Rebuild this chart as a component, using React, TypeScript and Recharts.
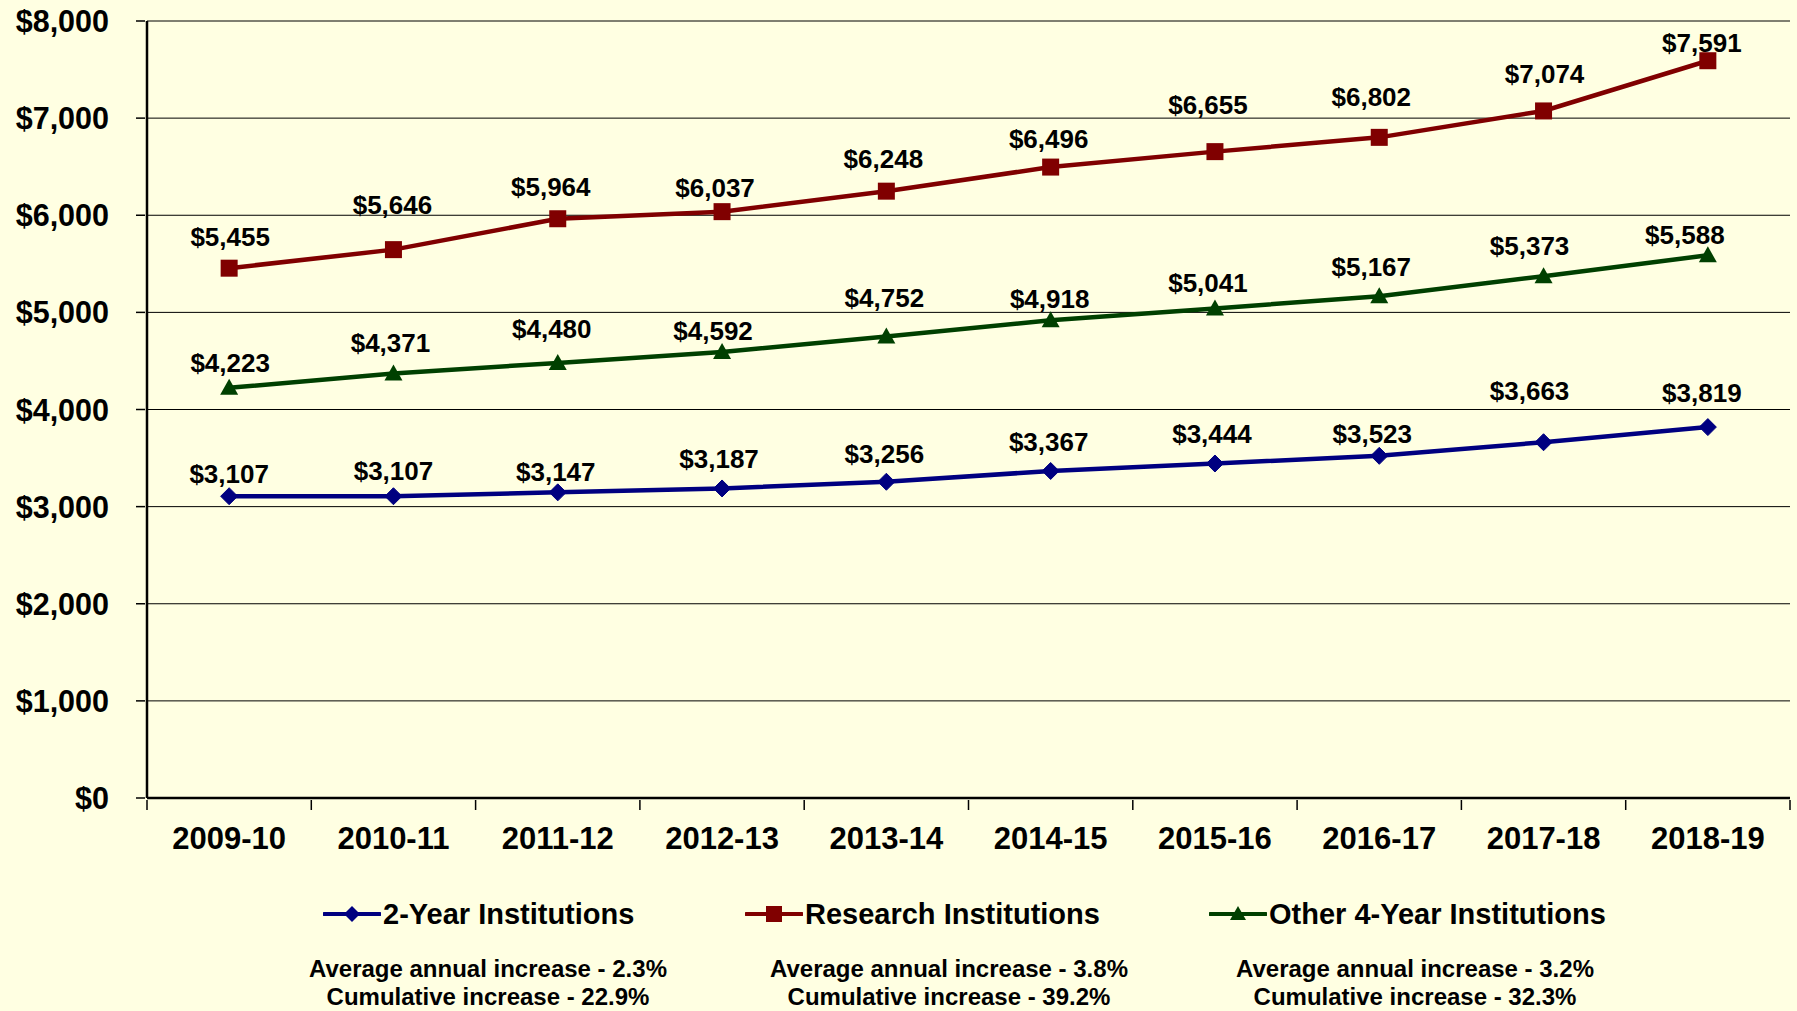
import React from "react";
import { LineChart, Line, XAxis, YAxis, CartesianGrid, LabelList, Legend } from "recharts";

const categories = ["2009-10", "2010-11", "2011-12", "2012-13", "2013-14", "2014-15", "2015-16", "2016-17", "2017-18", "2018-19"];
const twoYear = [3107, 3107, 3147, 3187, 3256, 3367, 3444, 3523, 3663, 3819];
const research = [5455, 5646, 5964, 6037, 6248, 6496, 6655, 6802, 7074, 7591];
const otherFour = [4223, 4371, 4480, 4592, 4752, 4918, 5041, 5167, 5373, 5588];
const yTicks = [0, 1000, 2000, 3000, 4000, 5000, 6000, 7000, 8000];
const seriesNames = ["2-Year Institutions", "Research Institutions", "Other 4-Year Institutions"];
const notesAvg = ["Average annual increase - 2.3%", "Average annual increase - 3.8%", "Average annual increase - 3.2%"];
const notesCum = ["Cumulative increase - 22.9%", "Cumulative increase - 39.2%", "Cumulative increase - 32.3%"];

// label placement nudges (style)
const redLift = [31, 45, 32, 24, 32, 28, 47, 41, 37, 18];
const redShift = [1, -1, -7, -7, -3, -2, -7, -8, 1, -6];
const greenLift = [25, 31, 34, 21, 39, 22, 26, 29, 30, 21];
const greenShift = [1, -3, -6, -9, -2, -1, -7, -8, -14, -23];
const blueLift = [23, 26, 21, 30, 28, 29, 30, 22, 52, 34];
const blueShift = [0, 0, -2, -3, -2, -2, -3, -7, -14, -6];

const data = categories.map((c, i) => ({ cat: c, two: twoYear[i], research: research[i], other: otherFour[i] }));

const FONT = "'Liberation Sans', Arial, sans-serif";
const BLUE = "#000080";
const RED = "#800000";
const GREEN = "#004000";
const BG = "#FFFFE2";

const W = 1797;
const H = 1011;
const LEFT = 147;
const RIGHT = 7;
const HALF_BAND = (W - LEFT - RIGHT) / categories.length / 2;

const fmt = (v: number) => "$" + v.toLocaleString("en-US");

const XTick = (props: any) => {
  const { x, y, payload, index } = props;
  return (
    <g>
      <line x1={x - HALF_BAND} x2={x - HALF_BAND} y1={y} y2={y + 10} stroke="#000" strokeWidth={1.5} />
      {index === categories.length - 1 && (
        <line x1={x + HALF_BAND} x2={x + HALF_BAND} y1={y} y2={y + 10} stroke="#000" strokeWidth={1.5} />
      )}
      <text x={x} y={y + 49} textAnchor="middle" fontFamily={FONT} fontWeight="bold" fontSize={31} fill="#000">
        {payload.value}
      </text>
    </g>
  );
};

const YTick = (props: any) => {
  const { x, y, payload } = props;
  return (
    <g>
      <line x1={x - 9} x2={x} y1={y} y2={y} stroke="#000" strokeWidth={1.5} />
      <text x={x - 36} y={y + 11} textAnchor="end" fontFamily={FONT} fontWeight="bold" fontSize={30.5} fill="#000">
        {fmt(payload.value)}
      </text>
    </g>
  );
};

const makeLabel = (lift: number[], shift: number[]) => (props: any) => {
  const { x, y, value, index } = props;
  return (
    <text x={x + shift[index]} y={y - lift[index] + 9.3} textAnchor="middle" fontFamily={FONT} fontWeight="bold" fontSize={26} fill="#000">
      {fmt(value)}
    </text>
  );
};

const Diamond = (props: any) => {
  const { cx, cy } = props;
  if (cx == null || cy == null) return null;
  const s = 8.5;
  return <polygon points={`${cx},${cy - s} ${cx + s},${cy} ${cx},${cy + s} ${cx - s},${cy}`} fill={BLUE} stroke={BLUE} />;
};
const Square = (props: any) => {
  const { cx, cy } = props;
  if (cx == null || cy == null) return null;
  const s = 8.5;
  return <rect x={cx - s} y={cy - s} width={2 * s} height={2 * s} fill={RED} />;
};
const Triangle = (props: any) => {
  const { cx, cy } = props;
  if (cx == null || cy == null) return null;
  return <polygon points={`${cx},${cy - 9} ${cx + 9},${cy + 7} ${cx - 9},${cy + 7}`} fill={GREEN} />;
};

const LegendIcon = ({ kind, color }: { kind: number; color: string }) => (
  <svg width={58} height={20} style={{ display: "block" }}>
    <line x1={1} x2={57} y1={10} y2={10} stroke={color} strokeWidth={4} strokeLinecap="round" />
    {kind === 0 && <polygon points="29,2 37,10 29,18 21,10" fill={color} />}
    {kind === 1 && <rect x={21} y={2} width={16} height={16} fill={color} />}
    {kind === 2 && <polygon points="29,2 37,16 21,16" fill={color} />}
  </svg>
);

const legendLeft = [323, 745, 1209];
const noteCenter = [488, 949, 1415];
const legendColors = [BLUE, RED, GREEN];

const renderLegend = () => (
  <div style={{ position: "relative", width: W, height: H, fontFamily: FONT, fontWeight: "bold", color: "#000" }}>
    {seriesNames.map((n, i) => (
      <div key={n} style={{ position: "absolute", left: legendLeft[i], top: 897, height: 34, display: "flex", alignItems: "center", whiteSpace: "nowrap" }}>
        <LegendIcon kind={i} color={legendColors[i]} />
        <span style={{ fontSize: 29, marginLeft: 2 }}>{n}</span>
      </div>
    ))}
    {notesAvg.map((t, i) => (
      <div key={t + i} style={{ position: "absolute", left: noteCenter[i] - 250, width: 500, top: 955, textAlign: "center", fontSize: 24, lineHeight: "28px", whiteSpace: "nowrap" }}>
        <div>{t}</div>
        <div>{notesCum[i]}</div>
      </div>
    ))}
  </div>
);

export default function App() {
  return (
    <div style={{ position: "fixed", left: 0, top: 0, width: W, height: H, background: BG }}>
      <LineChart width={W} height={H} data={data} margin={{ top: 21, right: RIGHT, left: 0, bottom: 0 }}>
        <CartesianGrid horizontal vertical={false} stroke="#000" strokeWidth={1} />
        <XAxis
          dataKey="cat"
          scale="band"
          height={213}
          tickSize={0}
          tickLine={false}
          axisLine={{ stroke: "#000", strokeWidth: 2.5 }}
          tick={<XTick />}
          interval={0}
        />
        <XAxis xAxisId="top" dataKey="cat" scale="band" orientation="top" height={0} tick={false} tickLine={false} axisLine={{ stroke: "#000", strokeWidth: 2.5 }} />
        <YAxis
          domain={[0, 8000]}
          ticks={yTicks}
          width={LEFT}
          tickSize={0}
          tickLine={false}
          axisLine={{ stroke: "#000", strokeWidth: 2.5 }}
          tick={<YTick />}
          interval={0}
        />
        <YAxis yAxisId="right" orientation="right" domain={[0, 8000]} width={0} tick={false} tickLine={false} axisLine={{ stroke: "#000", strokeWidth: 2.5 }} />
        <Legend layout="horizontal" verticalAlign="middle" align="center" wrapperStyle={{ left: 0, top: 0, width: W, height: H, pointerEvents: "none" }} content={renderLegend} />
        <Line dataKey="two" name={seriesNames[0]} stroke={BLUE} strokeWidth={4.5} dot={<Diamond />} isAnimationActive={false}>
          <LabelList dataKey="two" content={makeLabel(blueLift, blueShift)} />
        </Line>
        <Line dataKey="research" name={seriesNames[1]} stroke={RED} strokeWidth={4.5} dot={<Square />} isAnimationActive={false}>
          <LabelList dataKey="research" content={makeLabel(redLift, redShift)} />
        </Line>
        <Line dataKey="other" name={seriesNames[2]} stroke={GREEN} strokeWidth={4.5} dot={<Triangle />} isAnimationActive={false}>
          <LabelList dataKey="other" content={makeLabel(greenLift, greenShift)} />
        </Line>
      </LineChart>
    </div>
  );
}
